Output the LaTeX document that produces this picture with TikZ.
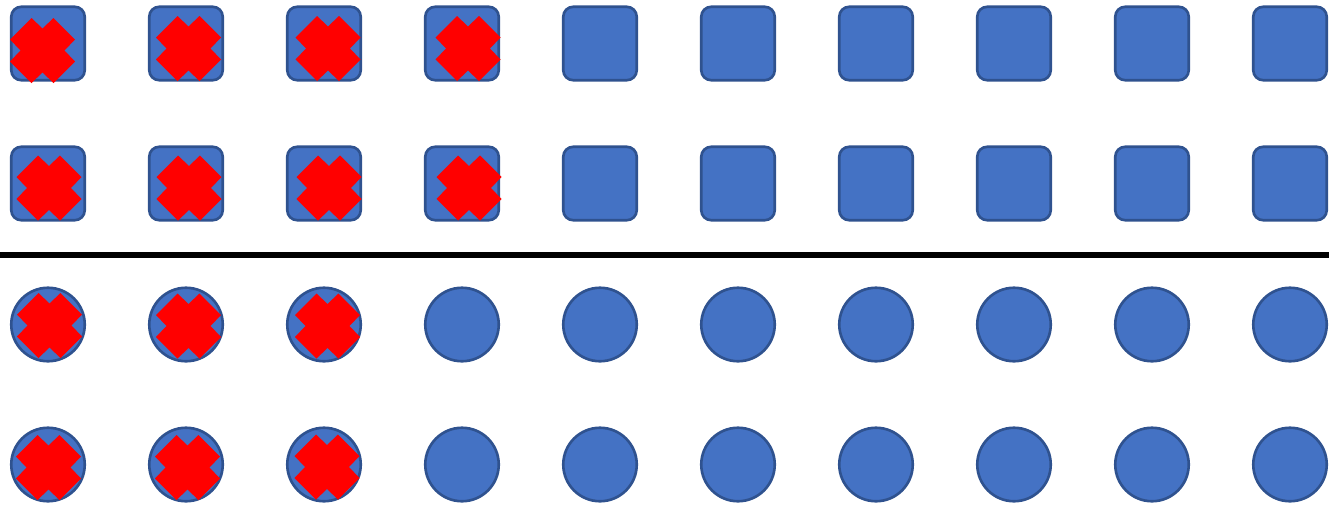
\documentclass[tikz,border=0pt]{standalone}
\usepackage{xcolor}
\usepackage{tikz}
\definecolor{tkblue}{HTML}{4472C4}
\definecolor{tkedge}{HTML}{2F528F}
\definecolor{tkred}{HTML}{FF0000}
\tikzset{
  tbox/.style={rectangle, rounded corners=0.2cm, fill=tkblue, draw=tkedge, line width=1.5pt, minimum size=1.47cm, inner sep=0pt},
  tdot/.style={circle, fill=tkblue, draw=tkedge, line width=1.5pt, minimum size=1.47cm, inner sep=0pt},
  tcut/.style={draw=black, line width=3pt},
  xmark/.pic={\fill[tkred] (0,-22) -- (11,-32.5) -- (32.5,-11) -- (22,0) -- (32.5,11) -- (11,32.5) -- (0,22)
    -- (-11,32.5) -- (-32.5,11) -- (-22,0) -- (-32.5,-11) -- (-11,-32.5) -- cycle;}
}

\begin{document}
\begin{tikzpicture}[x=0.02cm, y=-0.02cm]
  \useasboundingbox (0,0) rectangle (1329,504);
  % row 1
  \node[tbox] (a1) at (48,43.5){};\node[tbox] (a2) at (186,43.5){};\node[tbox] (a3) at (324,43.5){};\node[tbox] (a4) at (462,43.5){};\node[tbox] (a5) at (600,43.5){};
  \node[tbox] (a6) at (738,43.5){};\node[tbox] (a7) at (876,43.5){};\node[tbox] (a8) at (1014,43.5){};\node[tbox] (a9) at (1152,43.5){};\node[tbox] (a10) at (1290,43.5){};
  \pic at (42.5,50.5) {xmark};\pic at (188.5,48.5) {xmark};\pic at (328,48.5) {xmark};\pic at (468,48.5) {xmark};
  % row 2
  \node[tbox] (b1) at (48,183.5){};\node[tbox] (b2) at (186,183.5){};\node[tbox] (b3) at (324,183.5){};\node[tbox] (b4) at (462,183.5){};\node[tbox] (b5) at (600,183.5){};
  \node[tbox] (b6) at (738,183.5){};\node[tbox] (b7) at (876,183.5){};\node[tbox] (b8) at (1014,183.5){};\node[tbox] (b9) at (1152,183.5){};\node[tbox] (b10) at (1290,183.5){};
  \pic at (49,188) {xmark};\pic at (189,188) {xmark};\pic at (329,188) {xmark};\pic at (469,188) {xmark};
  % divider
  \coordinate (cl) at (0,255);\coordinate (cr) at (1329,255);
  \path[tcut] (cl) -- (cr);
  % row 3
  \node[tdot] (c1) at (48,324.5){};\node[tdot] (c2) at (186,324.5){};\node[tdot] (c3) at (324,324.5){};\node[tdot] (c4) at (462,324.5){};\node[tdot] (c5) at (600,324.5){};
  \node[tdot] (c6) at (738,324.5){};\node[tdot] (c7) at (876,324.5){};\node[tdot] (c8) at (1014,324.5){};\node[tdot] (c9) at (1152,324.5){};\node[tdot] (c10) at (1290,324.5){};
  \pic at (49.5,325.5) {xmark};\pic at (188.5,326) {xmark};\pic at (327.5,326) {xmark};
  % row 4
  \node[tdot] (d1) at (48,464.5){};\node[tdot] (d2) at (186,464.5){};\node[tdot] (d3) at (324,464.5){};\node[tdot] (d4) at (462,464.5){};\node[tdot] (d5) at (600,464.5){};
  \node[tdot] (d6) at (738,464.5){};\node[tdot] (d7) at (876,464.5){};\node[tdot] (d8) at (1014,464.5){};\node[tdot] (d9) at (1152,464.5){};\node[tdot] (d10) at (1290,464.5){};
  \pic at (48.5,467.5) {xmark};\pic at (187.5,467.5) {xmark};\pic at (327,467) {xmark};
\end{tikzpicture}
\end{document}
